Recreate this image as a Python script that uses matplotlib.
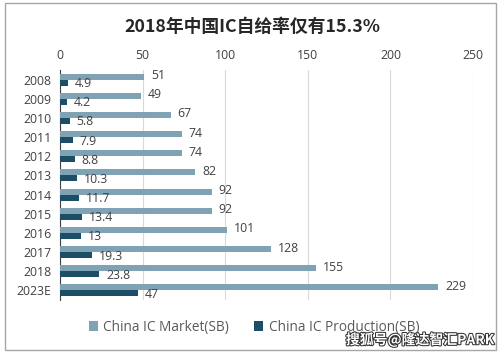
import numpy as np
import matplotlib.pyplot as plt
from matplotlib.patches import Rectangle
import matplotlib.patheffects as pe

plt.rcParams['font.family'] = ['Open Sans', 'Noto Sans CJK SC', 'DejaVu Sans']

years = ['2008', '2009', '2010', '2011', '2012', '2013', '2014', '2015',
         '2016', '2017', '2018', '2023E']
market = [51, 49, 67, 74, 74, 82, 92, 92, 101, 128, 155, 229]
production = [4.9, 4.2, 5.8, 7.9, 8.8, 10.3, 11.7, 13.4, 13, 19.3, 23.8, 47]

c_market = '#7fa2b4'
c_prod = '#1c4f66'
txt = '#404040'

fig = plt.figure(figsize=(5.04, 3.56), dpi=100)
ax = fig.add_axes([60 / 504, 1 - 300 / 356, 413 / 504, 230 / 356])

y = np.arange(len(years))
h = 0.31
ax.barh(y - h / 2, market, height=h, color=c_market, label='China IC Market(SB)', zorder=3)
ax.barh(y + h / 2, production, height=h, color=c_prod, label='China IC Production(SB)', zorder=3)

# data labels just past the bar ends
for yi, m, p in zip(y, market, production):
    ax.text(m + 4, yi - h / 2 - 0.05, f'{m:g}', va='center', ha='left', fontsize=8.8, color=txt)
    ax.text(p + 4, yi + h / 2 + 0.05, f'{p:g}', va='center', ha='left', fontsize=8.8, color=txt)

ax.set_xlim(0, 250)
ax.set_ylim(len(years) - 0.5, -0.5)
ax.set_xticks([0, 50, 100, 150, 200, 250])
ax.xaxis.tick_top()
ax.set_yticks(y)
ax.set_yticklabels(years)
ax.tick_params(axis='both', length=0, labelsize=8.8, labelcolor=txt, pad=6)
ax.grid(axis='x', color='#d9d9d9', linewidth=0.8, zorder=0)
for s in ['top', 'right', 'bottom']:
    ax.spines[s].set_visible(False)
ax.spines['left'].set_color('#404040')
ax.spines['left'].set_linewidth(0.8)

fig.text(0.5, 1 - 27 / 356, '2018年中国IC自给率仅有15.3%', ha='center', va='center',
         fontsize=12.8, fontweight='bold', color='#262626',
         family=['Noto Sans CJK SC', 'DejaVu Sans'])

fig.legend(loc='center', bbox_to_anchor=(254 / 504, 1 - 327 / 356), ncol=2, frameon=False,
           fontsize=9.8, labelcolor='#595959', handlelength=0.7, handleheight=0.7,
           handletextpad=0.4, columnspacing=1.8)

fig.text(1 - 10 / 504, 1 - 340 / 356, '搜狐号@隆达智汇PARK', ha='right', va='center',
         fontsize=10, fontweight='bold', color='white',
         family=['Noto Sans CJK SC', 'DejaVu Sans'],
         path_effects=[pe.withStroke(linewidth=1.5, foreground='#333333')])

fig.patches.append(Rectangle((5 / 504, 6 / 356), 491 / 504, 347 / 356, transform=fig.transFigure,
                             fill=False, edgecolor='#a6a6a6', linewidth=1))

fig.savefig('out.png', dpi=100)
